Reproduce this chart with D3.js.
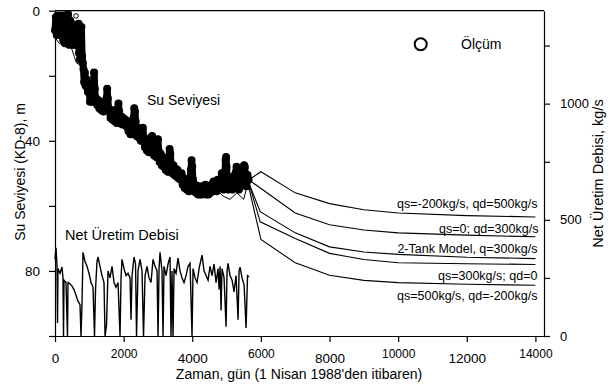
<!DOCTYPE html>
<html>
<head>
<meta charset="utf-8">
<script src="https://cdn.jsdelivr.net/npm/d3@7"></script>
<style>
body { margin: 0; background: #fff; }
svg { font-family: "Liberation Sans", Arial, sans-serif; }
.axis path, .axis line { stroke: #000; stroke-width: 1.2; }
.axis text { fill: #000; }
</style>
</head>
<body>
<div id="chart"></div>
<script>
// olcum: [gun, su seviyesi m]
var olcum = [[0,6],[25,2],[50,7.5],[75,1.5],[100,7],[125,2.5],[150,7.5],[180,1.5],[210,6.5],
  [240,9],[265,1.5],[290,10],[320,2],[350,9.5],[380,1],[410,10.5],[440,3],[470,10],[496,4],
  [520,10.5],[550,8.5],[580,10.5],[610,8.5],[640,10],
  [670,9],[690,4],[700,13],[715,7],[730,15],[750,10],[770,5],[790,14],[810,16],
  [830,18],[850,22],[870,19],[890,23],[910,21],[930,23.5],
  [960,25],[990,23],[1020,28],[1050,25],[1080,28],[1100,26],
  [1120,22],[1140,19],[1160,24],[1180,28],[1200,27],
  [1230,29],[1260,27.5],[1290,30],[1320,28],[1350,30.5],[1380,28.5],[1410,31],[1440,29],
  [1470,30],[1500,27],[1520,24],[1540,27],[1560,30],[1590,31],
  [1620,33],[1650,30.5],[1680,33.5],[1710,31],[1740,34],[1770,32],[1800,34.5],[1830,30],[1850,28.5],[1870,31],
  [1900,34.5],[1930,32.5],[1960,35],[1990,33],[2020,35],[2050,33.5],[2080,35.5],
  [2110,34],[2140,37],[2170,35],[2200,38],[2230,35.5],[2260,38],[2290,33],[2310,30],[2330,31],[2350,34],
  [2380,38.5],[2410,36],[2440,39],[2470,37],
  [2500,40],[2530,37.5],[2560,36],[2590,39],[2620,42],[2650,39.5],[2680,43],[2710,40.5],[2740,43.5],[2770,41],
  [2800,39],[2830,38.5],[2860,42],[2890,44.5],[2920,42],[2950,45],[2980,41],[3000,39.5],[3020,43],[3050,46.5],
  [3080,44],[3110,47.5],[3140,45],[3170,48],[3200,46],[3230,49],[3260,47],[3290,49.5],[3320,45],[3340,42.5],
  [3360,44],[3390,48],[3420,50],[3450,47.5],[3480,50.5],[3510,48.5],[3540,51],[3570,49],[3600,51.5],[3630,50],
  [3660,52],[3690,50],[3720,53.5],[3750,51.5],[3780,54.5],[3810,52.5],[3840,55],[3870,53],[3900,55.5],[3930,52],
  [3960,49],[3980,46],[4000,48],[4020,52],[4050,55.5],
  [4080,53.5],[4110,56],[4140,54],[4170,56.5],[4200,54],[4230,56.5],[4260,54.5],[4290,56.5],[4320,54],[4350,56],
  [4380,53.5],[4410,56.5],[4440,54.5],[4470,56.5],[4500,54],[4530,56],[4560,53.5],[4590,55.5],[4620,52.5],[4650,55],
  [4680,53],[4710,55.5],[4740,52],[4770,54.5],[4800,52],
  [4830,54.5],[4860,50],[4890,53],[4920,55],[4950,50],[4970,46],[4985,45],[5000,48],[5020,52],[5050,55],
  [5080,51.5],[5110,54],[5140,52],[5170,55],[5200,51],[5230,53.5],[5260,50],[5290,48],[5310,49],[5330,52],
  [5360,55],[5390,51.5],[5420,54],[5450,51],[5480,49],[5510,47.5],[5530,48],[5550,51],[5580,54],[5610,50.5],[5640,52]];
// ayri duran tek olcum
var olcumTek = [[610,1.6]];

// model (ince cizgi): [gun, m]
var model = [[0,1.5],[20,8.5],[120,10],[300,11],[480,11.5],[560,14],[620,16],[700,16.5],[820,18],
  [1000,25],[1300,29],[1700,32],[2100,35],[2500,39],[2900,43],[3300,47],[3700,51],[4100,54],
  [4500,56],[4700,55],[4900,57],[5100,58],[5300,56],[5500,58],[5640,52]];

// net uretim debisi: [gun, kg/s]
var uretim = [[0,330],[30,380],[58,300],[73,56],[87,290],[146,270],[204,297],[233,250],[248,0],[262,240],
  [320,230],[364,0],[379,230],[437,225],[496,215],[554,200],[612,175],[670,150],[729,135],[758,0],
  [787,140],[816,360],[875,320],[933,300],[991,270],[1050,230],[1108,210],[1151,0],[1181,200],[1224,320],
  [1253,340],[1312,300],[1370,260],[1428,230],[1458,0],[1501,45],[1545,280],[1603,250],[1662,300],[1720,230],
  [1778,210],[1837,230],[1895,0],[1924,250],[1953,330],[2011,290],[2070,260],[2128,270],[2186,250],[2215,70],
  [2245,260],[2303,340],[2347,310],[2376,0],[2419,280],[2478,330],[2536,280],[2580,0],[2624,260],[2682,300],
  [2740,250],[2798,230],[2857,330],[2915,300],[2974,280],[3003,0],[3032,290],[3061,360],[3119,280],[3148,0],
  [3177,300],[3236,260],[3294,310],[3352,340],[3381,0],[3410,280],[3440,0],[3469,290],[3527,270],[3585,335],
  [3644,280],[3702,250],[3760,230],[3819,260],[3877,300],[3935,313],[3993,0],[4023,290],[4081,250],[4139,230],
  [4198,290],[4256,330],[4285,348],[4343,280],[4402,260],[4460,240],[4518,300],[4577,260],[4635,310],[4693,230],
  [4752,290],[4781,200],[4810,300],[4839,110],[4868,290],[4927,250],[4985,40],[5014,280],[5043,313],[5101,260],
  [5160,240],[5218,190],[5276,260],[5335,70],[5364,280],[5393,296],[5451,250],[5510,220],[5568,35],[5611,260],
  [5655,255]];

// senaryolar: [gun, m]
var senaryo1 = [[5650,52],[6000,49.5],[7000,56],[8000,59.3],[9000,61.2],[10000,62.2],[12000,63],[14000,63.4]];
var senaryo2 = [[5650,52],[7000,62.2],[8000,65.8],[9000,67.4],[10000,68.3],[12000,69],[14000,69.5]];
var senaryo3 = [[5650,53],[5980,61.8],[7000,68.3],[8000,72.6],[9000,74.2],[10000,74.9],[12000,75.8],[14000,76.2]];
var senaryo4 = [[5650,53],[5980,64.9],[7000,70],[8000,74.6],[9000,76.5],[10000,77.5],[12000,77.8],[14000,78]];
var senaryo5 = [[5620,53],[6000,70.3],[7000,77.5],[8000,81.3],[9000,82.9],[10000,83.6],[12000,84.1],[14000,84.4]];
var senaryolar = [senaryo1, senaryo2, senaryo3, senaryo4, senaryo5];
var senaryoAdlari = ["qs=-200kg/s, qd=500kg/s", "qs=0; qd=300kg/s", "2-Tank Model, q=300kg/s",
  "qs=300kg/s; qd=0", "qs=500kg/s, qd=-200kg/s"];

var xTicks = [0, 2000, 4000, 6000, 8000, 10000, 12000, 14000];
var seviyeTicks = [0, 20, 40, 60, 80, 100];
var seviyeEtiket = [0, 40, 80];
var debiTicks = [0, 250, 500, 750, 1000, 1250];
var debiEtiket = [0, 500, 1000];

var margin = {top: 10.7, right: 68, bottom: 49, left: 55},
  width = 612 - margin.left - margin.right,
  height = 385 - margin.top - margin.bottom;

var x = d3.scaleLinear().domain([0, 14250]).range([0, width]);
var y = d3.scaleLinear().domain([0, 100]).range([0, height]);
var y2 = d3.scaleLinear().domain([0, 1400]).range([height, 0]);

var svg = d3.select("#chart").append("svg")
    .attr("width", 612)
    .attr("height", 385)
  .append("g")
    .attr("transform", "translate(" + margin.left + "," + margin.top + ")");

// ust cerceve cizgisi
svg.append("line")
  .attr("x1", 0).attr("x2", width).attr("y1", 0).attr("y2", 0)
  .attr("stroke", "#000").attr("stroke-width", 1.2);

// eksenler
var gx = svg.append("g").attr("class", "axis")
  .attr("transform", "translate(0," + height + ")")
  .call(d3.axisBottom(x).tickValues(xTicks).tickSize(6).tickSizeOuter(0).tickFormat(d3.format("d")));
gx.selectAll(".tick text")
  .attr("dy", 0)
  .attr("y", function(d, i) { return i % 2 ? 22 : 27; })
  .style("font-size", function(d, i) { return i % 2 ? "12px" : "13.5px"; });

var gy = svg.append("g").attr("class", "axis")
  .call(d3.axisLeft(y).tickValues(seviyeTicks).tickSize(6).tickSizeOuter(0)
    .tickFormat(function(d) { return seviyeEtiket.indexOf(d) >= 0 ? d : ""; }));
gy.selectAll(".tick text").attr("x", -15).style("font-size", "13.5px");

var gy2 = svg.append("g").attr("class", "axis")
  .attr("transform", "translate(" + width + ",0)")
  .call(d3.axisRight(y2).tickValues(debiTicks).tickSize(6).tickSizeOuter(0)
    .tickFormat(function(d) { return debiEtiket.indexOf(d) >= 0 ? d : ""; }));
gy2.selectAll(".tick text").attr("x", 16).style("font-size", "13px");

// net uretim debisi
svg.append("path")
  .datum(uretim)
  .attr("fill", "none")
  .attr("stroke", "#000")
  .attr("stroke-width", 1.4)
  .attr("d", d3.line().x(function(d) { return x(d[0]); }).y(function(d) { return y2(d[1]); }));

// model cizgisi
svg.append("path")
  .datum(model)
  .attr("fill", "none")
  .attr("stroke", "#000")
  .attr("stroke-width", 1)
  .attr("d", d3.line().x(function(d) { return x(d[0]); }).y(function(d) { return y(d[1]); }));

// olcum: cok sik olcumler ust uste binip kalin siyah bant olusturuyor
var olcumLine = d3.line().x(function(d) { return x(d[0]); }).y(function(d) { return y(d[1]); });
svg.append("path")
  .datum(olcum)
  .attr("fill", "none")
  .attr("stroke", "#000")
  .attr("stroke-width", 7)
  .attr("stroke-linejoin", "round")
  .attr("stroke-linecap", "round")
  .attr("d", olcumLine);

svg.append("g").selectAll("circle")
  .data(olcum)
  .enter().append("circle")
    .attr("cx", function(d) { return x(d[0]); })
    .attr("cy", function(d) { return y(d[1]); })
    .attr("r", 3)
    .attr("fill", "none")
    .attr("stroke", "#000")
    .attr("stroke-width", 2);

svg.append("g").selectAll("circle")
  .data(olcumTek)
  .enter().append("circle")
    .attr("cx", function(d) { return x(d[0]); })
    .attr("cy", function(d) { return y(d[1]); })
    .attr("r", 2.3)
    .attr("fill", "none")
    .attr("stroke", "#000")
    .attr("stroke-width", 1);

// senaryo cizgileri
var senLine = d3.line().x(function(d) { return x(d[0]); }).y(function(d) { return y(d[1]); });
svg.selectAll(".senaryo")
  .data(senaryolar)
  .enter().append("path")
    .attr("class", "senaryo")
    .attr("fill", "none")
    .attr("stroke", "#000")
    .attr("stroke-width", 1.1)
    .attr("d", senLine);

// senaryo etiketleri (cizgi sonuna gore kaydirma)
var etiketKayma = [-9, -4, -6, 15.5, 15];
svg.selectAll(".senEtiket")
  .data(senaryolar)
  .enter().append("text")
    .attr("class", "senEtiket")
    .attr("x", function(d, i) { return i == 1 ? x(14000) + 3 : x(14000) + 2; })
    .attr("y", function(d, i) { return y(d[d.length - 1][1]) + etiketKayma[i]; })
    .attr("text-anchor", "end")
    .style("font-size", "12.5px")
    .text(function(d, i) { return senaryoAdlari[i]; });

// yazilar
svg.append("text").attr("x", 92).attr("y", 94.5).style("font-size", "14px").text("Su Seviyesi");
svg.append("text").attr("x", 10).attr("y", 229.5).style("font-size", "14.5px").text("Net Üretim Debisi");

// lejant
svg.append("circle").attr("cx", 365.7).attr("cy", 33.6).attr("r", 6)
  .attr("fill", "none").attr("stroke", "#000").attr("stroke-width", 2);
svg.append("text").attr("x", 406).attr("y", 38.5).style("font-size", "14px").text("Ölçüm");

// eksen basliklari
svg.append("text")
  .attr("transform", "translate(" + (20 - margin.left) + "," + (172 - margin.top) + ") rotate(-90)")
  .attr("text-anchor", "middle").attr("dy", "0.35em")
  .style("font-size", "14px")
  .text("Su Seviyesi (KD-8), m");

svg.append("text")
  .attr("transform", "translate(" + (598 - margin.left) + "," + (173.5 - margin.top) + ") rotate(-90)")
  .attr("text-anchor", "middle").attr("dy", "0.35em")
  .style("font-size", "14.5px")
  .text("Net Üretim Debisi, kg/s");

svg.append("text")
  .attr("x", 299 - margin.left).attr("y", 379.5 - margin.top)
  .attr("text-anchor", "middle")
  .style("font-size", "14px")
  .text("Zaman, gün (1 Nisan 1988'den itibaren)");
</script>
</body>
</html>
